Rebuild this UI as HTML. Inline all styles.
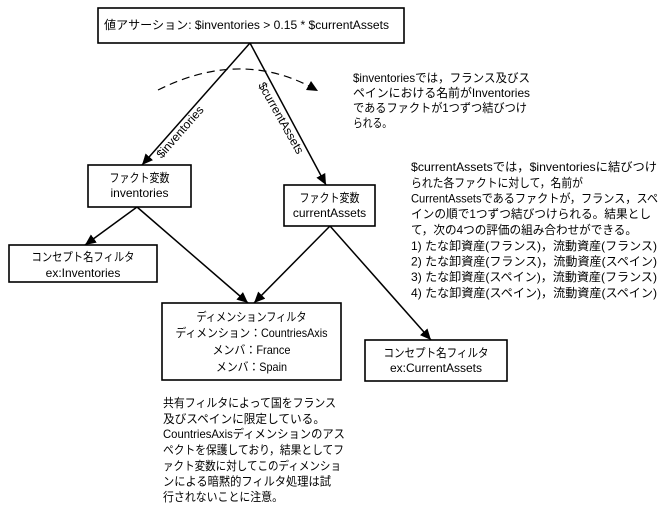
<!DOCTYPE html>
<html><head><meta charset="utf-8"><style>
html,body{margin:0;padding:0;background:#fff;}
svg{display:block;}
text{font-family:"Liberation Sans","Noto Sans CJK JP",sans-serif;font-size:12px;fill:#000;}
</style></head><body>
<svg width="663" height="514" viewBox="0 0 663 514" xmlns="http://www.w3.org/2000/svg">
<defs>
<marker id="ah" markerUnits="userSpaceOnUse" markerWidth="12" markerHeight="10" refX="11" refY="5" orient="auto">
<path d="M0,0 L11,5 L0,10 z" fill="#000"/>
</marker>
</defs>
<g fill="none" stroke="#000" stroke-width="1.6">
<rect x="98" y="8" width="306" height="35"/>
<rect x="88" y="165" width="103" height="42"/>
<rect x="284" y="185" width="91" height="41"/>
<rect x="9" y="245" width="148" height="37"/>
<rect x="162" y="303" width="179" height="77"/>
<rect x="365" y="340" width="142" height="41"/>
</g>
<g fill="none" stroke="#000" stroke-width="1.5" marker-end="url(#ah)">
<line x1="250" y1="43" x2="142" y2="165"/>
<line x1="250" y1="43" x2="326" y2="185"/>
<line x1="137" y1="207" x2="85" y2="245"/>
<line x1="137" y1="207" x2="248" y2="303"/>
<line x1="330" y1="226" x2="254" y2="303"/>
<line x1="330" y1="226" x2="431" y2="340"/>
</g>
<path d="M158,90 Q238,50 309,86" fill="none" stroke="#000" stroke-width="1.2" stroke-dasharray="8,5"/>
<path d="M318,91 L306,90 L311,81 z" fill="#000"/>

<text x="104" y="29" textLength="285" lengthAdjust="spacingAndGlyphs">値アサーション: $inventories &gt; 0.15 * $currentAssets</text>

<text transform="translate(180,132) rotate(-48.8)" text-anchor="middle" y="4">$inventories</text>
<text transform="translate(281,118) rotate(60.6)" text-anchor="middle" y="4">$currentAssets</text>

<g text-anchor="middle">
<text x="139.5" y="182" textLength="60" lengthAdjust="spacingAndGlyphs">ファクト変数</text>
<text x="139.5" y="197">inventories</text>
<text x="329.5" y="202" textLength="60" lengthAdjust="spacingAndGlyphs">ファクト変数</text>
<text x="329.5" y="217">currentAssets</text>
<text x="83" y="261" textLength="103" lengthAdjust="spacingAndGlyphs">コンセプト名フィルタ</text>
<text x="83" y="277">ex:Inventories</text>
<text x="251.5" y="321" textLength="110" lengthAdjust="spacingAndGlyphs">ディメンションフィルタ</text>
<text x="251.5" y="337" textLength="152" lengthAdjust="spacingAndGlyphs">ディメンション：CountriesAxis</text>
<text x="251.5" y="354" textLength="78" lengthAdjust="spacingAndGlyphs">メンバ：France</text>
<text x="251.5" y="371" textLength="71" lengthAdjust="spacingAndGlyphs">メンバ：Spain</text>
<text x="436" y="357" textLength="105" lengthAdjust="spacingAndGlyphs">コンセプト名フィルタ</text>
<text x="436" y="372">ex:CurrentAssets</text>
</g>

<g>
<text x="353" y="82" textLength="177" lengthAdjust="spacingAndGlyphs">$inventoriesでは，フランス及びス</text>
<text x="353" y="97" textLength="177" lengthAdjust="spacingAndGlyphs">ペインにおける名前がInventories</text>
<text x="353" y="112" textLength="174" lengthAdjust="spacingAndGlyphs">であるファクトが1つずつ結びつけ</text>
<text x="353" y="127" textLength="39" lengthAdjust="spacingAndGlyphs">られる。</text>

<text x="411" y="171" textLength="246" lengthAdjust="spacingAndGlyphs">$currentAssetsでは，$inventoriesに結びつけ</text>
<text x="411" y="187" textLength="172" lengthAdjust="spacingAndGlyphs">られた各ファクトに対して，名前が</text>
<text x="411" y="202.5" textLength="247" lengthAdjust="spacingAndGlyphs">CurrentAssetsであるファクトが，フランス，スペ</text>
<text x="411" y="218" textLength="240" lengthAdjust="spacingAndGlyphs">インの順で1つずつ結びつけられる。結果とし</text>
<text x="411" y="234" textLength="226" lengthAdjust="spacingAndGlyphs">て，次の4つの評価の組み合わせができる。</text>
<text x="411" y="250" textLength="246" lengthAdjust="spacingAndGlyphs">1) たな卸資産(フランス)，流動資産(フランス)</text>
<text x="411" y="265.5" textLength="246" lengthAdjust="spacingAndGlyphs">2) たな卸資産(フランス)，流動資産(スペイン)</text>
<text x="411" y="281" textLength="246" lengthAdjust="spacingAndGlyphs">3) たな卸資産(スペイン)，流動資産(フランス)</text>
<text x="411" y="297" textLength="246" lengthAdjust="spacingAndGlyphs">4) たな卸資産(スペイン)，流動資産(スペイン)</text>

<text x="163" y="407" textLength="173" lengthAdjust="spacingAndGlyphs">共有フィルタによって国をフランス</text>
<text x="163" y="423" textLength="162" lengthAdjust="spacingAndGlyphs">及びスペインに限定している。</text>
<text x="163" y="438" textLength="182" lengthAdjust="spacingAndGlyphs">CountriesAxisディメンションのアス</text>
<text x="163" y="454" textLength="181" lengthAdjust="spacingAndGlyphs">ペクトを保護しており，結果としてフ</text>
<text x="163" y="470" textLength="178" lengthAdjust="spacingAndGlyphs">ァクト変数に対してこのディメンショ</text>
<text x="163" y="485.5" textLength="168" lengthAdjust="spacingAndGlyphs">ンによる暗黙的フィルタ処理は試</text>
<text x="163" y="501" textLength="120" lengthAdjust="spacingAndGlyphs">行されないことに注意。</text>
</g>
</svg>
</body></html>
